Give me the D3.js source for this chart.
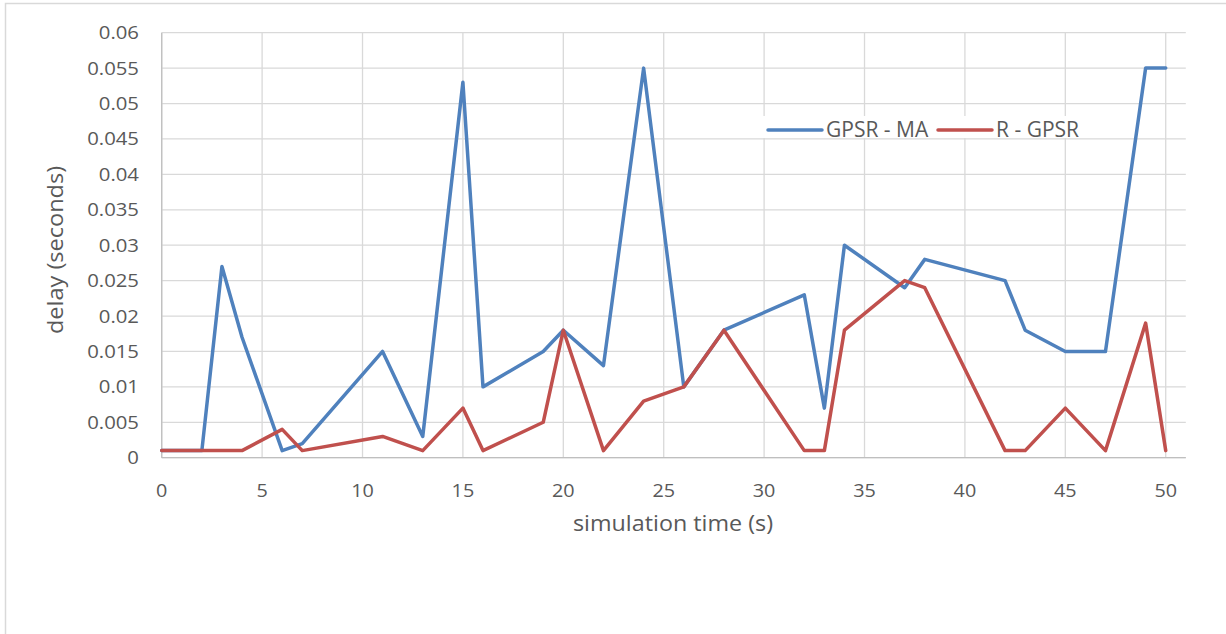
<!DOCTYPE html>
<html>
<head>
<meta charset="utf-8">
<script src="https://cdn.jsdelivr.net/npm/d3@7"></script>
<style>
  body { margin: 0; background: #fff; }
  text { font-family: "Open Sans", sans-serif; fill: #595959; }
</style>
</head>
<body>
<div id="chart"></div>
<script>
// simulation time (s)
const times = [0, 2, 3, 4, 6, 7, 11, 13, 15, 16, 19, 20, 22, 24, 26, 28, 32, 33, 34, 37, 38, 42, 43, 45, 47, 49, 50];
// delay (seconds)
const gpsrMA = [0.001, 0.001, 0.027, 0.017, 0.001, 0.002, 0.015, 0.003, 0.053, 0.010, 0.015, 0.018, 0.013, 0.055, 0.010, 0.018, 0.023, 0.007, 0.030, 0.024, 0.028, 0.025, 0.018, 0.015, 0.015, 0.055, 0.055];
const rGPSR  = [0.001, 0.001, 0.001, 0.001, 0.004, 0.001, 0.003, 0.001, 0.007, 0.001, 0.005, 0.018, 0.001, 0.008, 0.010, 0.018, 0.001, 0.001, 0.018, 0.025, 0.024, 0.001, 0.001, 0.007, 0.001, 0.019, 0.001];
const seriesNames = ["GPSR - MA", "R - GPSR"];
const seriesColors = ["#4f81bd", "#c0504d"];
const xTicks = d3.range(0, 51, 5);
const yTicks = d3.range(0, 0.0601, 0.005);

const width = 1226, height = 634;
const svg = d3.select("#chart").append("svg")
  .attr("width", width)
  .attr("height", height);

// outer chart border (only left/top visible)
svg.append("path")
  .attr("d", `M5.5,${height}V3.5H${width}`)
  .attr("fill", "none")
  .attr("stroke", "#d9d9d9")
  .attr("stroke-width", 1.5);

const x = d3.scaleLinear().domain([0, 51]).range([161.7, 1185.8]);
const y = d3.scaleLinear().domain([0, 0.06]).range([457.7, 32.7]);

// gridlines
svg.append("g").selectAll("line")
  .data(yTicks)
  .enter().append("line")
  .attr("x1", x(0)).attr("x2", x(51))
  .attr("y1", d => y(d)).attr("y2", d => y(d))
  .attr("stroke", "#d9d9d9").attr("stroke-width", 1.3);
svg.append("g").selectAll("line")
  .data(xTicks)
  .enter().append("line")
  .attr("x1", d => x(d)).attr("x2", d => x(d))
  .attr("y1", y(0.06)).attr("y2", y(0))
  .attr("stroke", "#d9d9d9").attr("stroke-width", 1.3);

// axis lines
svg.append("line")
  .attr("x1", x(0)).attr("x2", x(51)).attr("y1", y(0)).attr("y2", y(0))
  .attr("stroke", "#bfbfbf").attr("stroke-width", 1.3);
svg.append("line")
  .attr("x1", x(0)).attr("x2", x(0)).attr("y1", y(0.06)).attr("y2", y(0))
  .attr("stroke", "#bfbfbf").attr("stroke-width", 1.3);

// tick labels (drawn a little wide, like the reference)
svg.append("g").selectAll("text")
  .data(yTicks)
  .enter().append("text")
  .attr("transform", d => `translate(139,${y(d) + 6.5}) scale(1.13,1)`)
  .attr("text-anchor", "end")
  .style("font-size", "18px")
  .text(d => +d.toFixed(3));
svg.append("g").selectAll("text")
  .data(xTicks)
  .enter().append("text")
  .attr("transform", d => `translate(${x(d)},497) scale(1.1,1)`)
  .attr("text-anchor", "middle")
  .style("font-size", "18px")
  .text(d => d);

// axis titles
svg.append("text")
  .attr("transform", "translate(673,531) scale(1.06,1)")
  .attr("text-anchor", "middle")
  .style("font-size", "22px")
  .text("simulation time (s)");
svg.append("text")
  .attr("transform", "translate(63,250) rotate(-90) scale(1.07,1)")
  .attr("text-anchor", "middle")
  .style("font-size", "22px")
  .text("delay (seconds)");

// lines
const line = d3.line().x((d, i) => x(times[i])).y(d => y(d));
[gpsrMA, rGPSR].forEach((vals, k) => {
  svg.append("path")
    .datum(vals)
    .attr("fill", "none")
    .attr("stroke", seriesColors[k])
    .attr("stroke-width", 3.5)
    .attr("stroke-linejoin", "round")
    .attr("stroke-linecap", "round")
    .attr("d", line);
});

// legend
const legend = svg.append("g");
legend.append("rect")
  .attr("x", 762).attr("y", 116).attr("width", 322).attr("height", 22)
  .attr("fill", "#fff");
const legendX = [768, 938];
seriesNames.forEach((name, k) => {
  legend.append("line")
    .attr("x1", legendX[k]).attr("x2", legendX[k] + 54)
    .attr("y1", 130).attr("y2", 130)
    .attr("stroke", seriesColors[k])
    .attr("stroke-width", 3.5)
    .attr("stroke-linecap", "round");
  legend.append("text")
    .attr("x", legendX[k] + 58).attr("y", 137)
    .style("font-size", "21px")
    .text(name);
});
</script>
</body>
</html>
